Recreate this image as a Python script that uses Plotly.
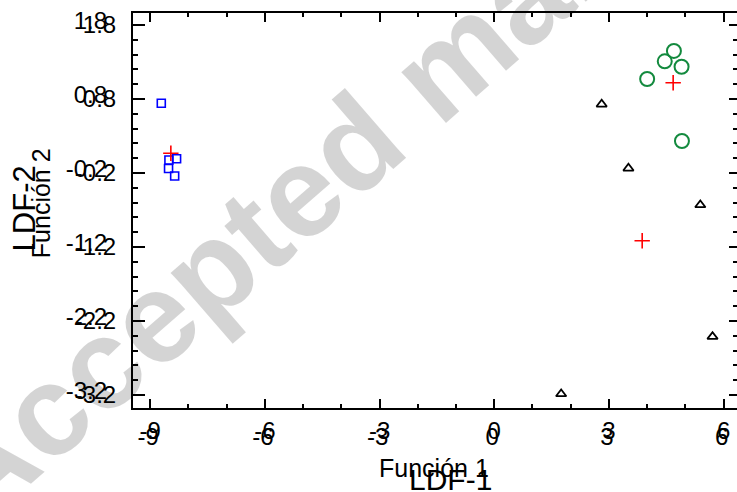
import plotly.graph_objects as go

# ---- data ----
sq_x = [-8.71, -8.51, -8.31, -8.52, -8.36]
sq_y = [0.742, -0.024, -0.007, -0.14, -0.24]

ci_x = [4.70, 4.46, 4.90, 4.00, 4.91]
ci_y = [1.449, 1.309, 1.236, 1.07, 0.232]

tr_x = [2.81, 3.51, 5.39, 5.71, 1.75]
tr_y = [0.728, -0.137, -0.632, -2.412, -3.186]

cen_x = [-8.46, 4.68, 3.87]
cen_y = [0.066, 1.02, -1.115]

x_ticks = [-9, -6, -3, 0, 3, 6]
x_labels = ["-9", "-6", "-3", "0", "3", "6"]
y_ticks = [1.8, 0.8, -0.2, -1.2, -2.2, -3.2]
y_labels = ["1.8", "0.8", "-0.2", "-1.2", "-2.2", "-3.2"]

x_range = [-9.45, 6.35]
y_range = [-3.376, 1.962]

FONT = "Arial, Liberation Sans, sans-serif"

fig = go.Figure()
fig.add_trace(go.Scatter(x=sq_x, y=sq_y, mode="markers",
                         marker=dict(symbol="square-open", size=8, color="#0000ff",
                                     line=dict(width=1.6, color="#0000ff"))))
fig.add_trace(go.Scatter(x=ci_x, y=ci_y, mode="markers",
                         marker=dict(symbol="circle-open", size=14, color="#138a3e",
                                     line=dict(width=2, color="#138a3e"))))
fig.add_trace(go.Scatter(x=tr_x, y=tr_y, mode="markers",
                         marker=dict(symbol="triangle-up-open", size=9, color="#000000",
                                     line=dict(width=1.8, color="#000000"))))
fig.add_trace(go.Scatter(x=cen_x, y=cen_y, mode="markers",
                         marker=dict(symbol="cross-thin-open", size=11, color="#ff0000",
                                     line=dict(width=1.6, color="#ff0000"))))

tickfont = dict(family=FONT, size=24, color="black")

fig.update_layout(
    width=737, height=492,
    margin=dict(l=133, r=0, t=13, b=84, autoexpand=False),
    paper_bgcolor="white", plot_bgcolor="white",
    showlegend=False,
    font=dict(family=FONT, color="black"),
    xaxis=dict(range=x_range, tickmode="array", tickvals=x_ticks, ticktext=x_labels,
               showgrid=False, zeroline=False, showline=True, linewidth=2, linecolor="black",
               mirror="ticks", ticks="inside", ticklen=9, tickwidth=2, tickcolor="black",
               minor=dict(dtick=1, tick0=-9, ticks="inside", ticklen=4, tickwidth=2, tickcolor="black", showgrid=False),
               tickfont=tickfont, ticklabelstandoff=0, automargin=False),
    xaxis2=dict(range=x_range, overlaying="x", side="bottom", tickmode="array",
                tickvals=x_ticks, ticktext=x_labels, showgrid=False, zeroline=False,
                showline=False, ticks="", tickfont=tickfont, ticklabelstandoff=12,
                ticklabelshift=-2, automargin=False),
    yaxis=dict(range=y_range, tickmode="array", tickvals=y_ticks, ticktext=y_labels,
               showgrid=False, zeroline=False, showline=True, linewidth=2, linecolor="black",
               mirror=False, ticks="inside", ticklen=12, tickwidth=2, tickcolor="black",
               minor=dict(dtick=0.2, tick0=1.8, ticks="inside", ticklen=5, tickwidth=2, tickcolor="black", showgrid=False),
               tickfont=tickfont, ticklabelstandoff=10, automargin=False),
    yaxis2=dict(range=y_range, overlaying="y", side="left", tickmode="array",
                tickvals=y_ticks, ticktext=y_labels, showgrid=False, zeroline=False,
                showline=False, ticks="", tickfont=tickfont, ticklabelstandoff=25,
                ticklabelshift=-4, automargin=False),
    yaxis3=dict(range=y_range, overlaying="y", side="right", tickmode="array",
                tickvals=y_ticks, showticklabels=False, showgrid=False, zeroline=False,
                showline=False, ticks="inside", ticklen=8, tickwidth=2, tickcolor="black",
                minor=dict(dtick=0.2, tick0=1.8, ticks="inside", ticklen=4, tickwidth=2, tickcolor="black", showgrid=False),
                automargin=False),
)

# invisible traces to activate overlay axes
fig.add_trace(go.Scatter(x=[None], y=[None], xaxis="x2", yaxis="y2", showlegend=False, hoverinfo="skip"))
fig.add_trace(go.Scatter(x=[None], y=[None], xaxis="x", yaxis="y3", showlegend=False, hoverinfo="skip"))

# axis titles (two overlapping sets, as in the reference)
fig.add_annotation(text="Función 1", xref="paper", yref="paper", x=0.499, y=-0.152,
                   xanchor="center", yanchor="middle", showarrow=False,
                   font=dict(family=FONT, size=25, color="black"))
fig.add_annotation(text="LDF-1", xref="paper", yref="paper", x=0.525, y=-0.18,
                   xanchor="center", yanchor="middle", showarrow=False,
                   font=dict(family=FONT, size=30, color="black"))
fig.add_annotation(text="LDF-2", xref="paper", y=0.506, yref="paper", x=-0.180,
                   xanchor="center", yanchor="middle", showarrow=False, textangle=-90,
                   font=dict(family=FONT, size=31, color="black"))
fig.add_annotation(text="Función 2", xref="paper", y=0.519, yref="paper", x=-0.152,
                   xanchor="center", yanchor="middle", showarrow=False, textangle=-90,
                   font=dict(family=FONT, size=25, color="black"))

# watermark
fig.add_annotation(text="<b>Accepted manuscript</b>", xref="paper", yref="paper",
                   x=0.508, y=0.856, xanchor="center", yanchor="middle", showarrow=False,
                   textangle=-41, font=dict(family=FONT, size=128, color="rgba(0,0,0,0.17)"))

fig.write_html("out.html", config={"displayModeBar": False},
               post_script="document.body.style.margin='0';document.body.style.overflow='hidden';")
